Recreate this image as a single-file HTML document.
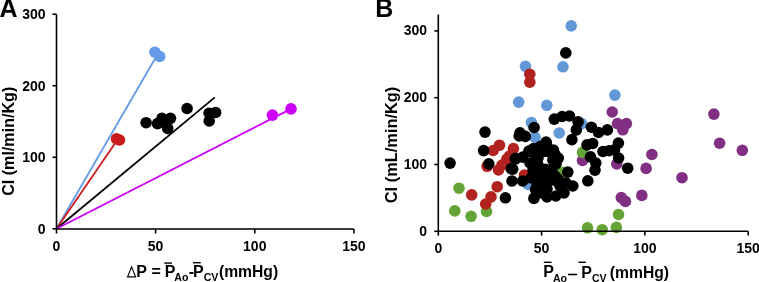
<!DOCTYPE html>
<html><head><meta charset="utf-8"><style>
html,body{margin:0;padding:0;background:#fff;width:759px;height:282px;overflow:hidden}
svg{display:block;will-change:transform}
</style></head><body>
<svg width="759" height="282" viewBox="0 0 759 282">
<line x1="56.5" y1="228.8" x2="158.0" y2="53.5" stroke="#649BE6" stroke-width="1.8"/>
<line x1="56.5" y1="228.8" x2="118.0" y2="139.0" stroke="#C91A1E" stroke-width="1.8"/>
<line x1="56.5" y1="228.8" x2="214.8" y2="97.4" stroke="#000000" stroke-width="1.8"/>
<line x1="56.5" y1="228.8" x2="291.0" y2="108.9" stroke="#CC00FA" stroke-width="1.8"/>
<circle cx="154.9" cy="52.2" r="5.8" fill="#649BE6"/>
<circle cx="159.7" cy="56.5" r="5.8" fill="#649BE6"/>
<circle cx="116.5" cy="138.8" r="5.8" fill="#C91A1E"/>
<circle cx="119.5" cy="140.0" r="5.8" fill="#C91A1E"/>
<circle cx="272.4" cy="115.1" r="5.8" fill="#CC00FA"/>
<circle cx="291.0" cy="108.9" r="5.8" fill="#CC00FA"/>
<circle cx="146.1" cy="122.7" r="5.8" fill="#000000"/>
<circle cx="157.5" cy="123.6" r="5.8" fill="#000000"/>
<circle cx="162.0" cy="118.3" r="5.8" fill="#000000"/>
<circle cx="170.5" cy="118.3" r="5.8" fill="#000000"/>
<circle cx="167.7" cy="128.4" r="5.8" fill="#000000"/>
<circle cx="164.5" cy="122.5" r="5.8" fill="#000000"/>
<circle cx="187.1" cy="108.5" r="5.8" fill="#000000"/>
<circle cx="209.1" cy="113.2" r="5.8" fill="#000000"/>
<circle cx="215.6" cy="112.5" r="5.8" fill="#000000"/>
<circle cx="209.2" cy="121.0" r="5.8" fill="#000000"/>
<circle cx="571.2" cy="25.9" r="5.8" fill="#6298D6"/>
<circle cx="565.8" cy="52.9" r="5.8" fill="#000000"/>
<circle cx="563.0" cy="66.8" r="5.8" fill="#6298D6"/>
<circle cx="525.5" cy="66.3" r="5.8" fill="#6298D6"/>
<circle cx="529.8" cy="74.2" r="5.8" fill="#B2221E"/>
<circle cx="529.8" cy="82.2" r="5.8" fill="#B2221E"/>
<circle cx="518.7" cy="102.1" r="5.8" fill="#6298D6"/>
<circle cx="546.8" cy="105.3" r="5.8" fill="#6298D6"/>
<circle cx="614.9" cy="95.1" r="5.8" fill="#6298D6"/>
<circle cx="612.2" cy="112.0" r="5.8" fill="#812F83"/>
<circle cx="713.9" cy="114.1" r="5.8" fill="#812F83"/>
<circle cx="719.6" cy="143.2" r="5.8" fill="#812F83"/>
<circle cx="742.3" cy="150.3" r="5.8" fill="#812F83"/>
<circle cx="682.0" cy="177.7" r="5.8" fill="#812F83"/>
<circle cx="651.9" cy="154.5" r="5.8" fill="#812F83"/>
<circle cx="646.1" cy="168.4" r="5.8" fill="#812F83"/>
<circle cx="641.8" cy="195.4" r="5.8" fill="#812F83"/>
<circle cx="621.3" cy="197.6" r="5.8" fill="#812F83"/>
<circle cx="625.4" cy="201.4" r="5.8" fill="#812F83"/>
<circle cx="617.5" cy="123.6" r="5.8" fill="#812F83"/>
<circle cx="626.4" cy="123.6" r="5.8" fill="#812F83"/>
<circle cx="622.8" cy="129.8" r="5.8" fill="#812F83"/>
<circle cx="616.8" cy="164.0" r="5.8" fill="#812F83"/>
<circle cx="582.5" cy="160.4" r="5.8" fill="#812F83"/>
<circle cx="459.0" cy="188.2" r="5.8" fill="#65A336"/>
<circle cx="454.8" cy="210.9" r="5.8" fill="#65A336"/>
<circle cx="471.1" cy="216.3" r="5.8" fill="#65A336"/>
<circle cx="486.5" cy="211.5" r="5.8" fill="#65A336"/>
<circle cx="587.5" cy="227.8" r="5.8" fill="#65A336"/>
<circle cx="602.2" cy="229.7" r="5.8" fill="#65A336"/>
<circle cx="616.4" cy="227.4" r="5.8" fill="#65A336"/>
<circle cx="618.5" cy="214.5" r="5.8" fill="#65A336"/>
<circle cx="582.5" cy="152.4" r="5.8" fill="#65A336"/>
<circle cx="562.8" cy="172.3" r="5.8" fill="#65A336"/>
<circle cx="531.4" cy="122.5" r="5.8" fill="#6298D6"/>
<circle cx="535.0" cy="137.3" r="5.8" fill="#6298D6"/>
<circle cx="559.2" cy="133.0" r="5.8" fill="#6298D6"/>
<circle cx="581.6" cy="123.6" r="5.8" fill="#6298D6"/>
<circle cx="528.2" cy="184.5" r="5.8" fill="#6298D6"/>
<circle cx="471.7" cy="194.9" r="5.8" fill="#B2221E"/>
<circle cx="485.7" cy="204.0" r="5.8" fill="#B2221E"/>
<circle cx="491.0" cy="196.9" r="5.8" fill="#B2221E"/>
<circle cx="497.2" cy="186.7" r="5.8" fill="#B2221E"/>
<circle cx="487.1" cy="166.3" r="5.8" fill="#B2221E"/>
<circle cx="493.1" cy="150.5" r="5.8" fill="#B2221E"/>
<circle cx="499.5" cy="145.2" r="5.8" fill="#B2221E"/>
<circle cx="513.4" cy="148.6" r="5.8" fill="#B2221E"/>
<circle cx="498.5" cy="170.0" r="5.8" fill="#B2221E"/>
<circle cx="502.0" cy="165.0" r="5.8" fill="#B2221E"/>
<circle cx="506.9" cy="159.0" r="5.8" fill="#B2221E"/>
<circle cx="509.5" cy="156.0" r="5.8" fill="#B2221E"/>
<circle cx="524.5" cy="175.0" r="5.8" fill="#B2221E"/>
<circle cx="450.1" cy="163.1" r="5.8" fill="#000000"/>
<circle cx="485.0" cy="132.1" r="5.8" fill="#000000"/>
<circle cx="483.6" cy="150.6" r="5.8" fill="#000000"/>
<circle cx="488.8" cy="163.9" r="5.8" fill="#000000"/>
<circle cx="520.0" cy="132.8" r="5.8" fill="#000000"/>
<circle cx="525.3" cy="136.4" r="5.8" fill="#000000"/>
<circle cx="534.1" cy="127.5" r="5.8" fill="#000000"/>
<circle cx="519.2" cy="135.9" r="5.8" fill="#000000"/>
<circle cx="505.4" cy="197.8" r="5.8" fill="#000000"/>
<circle cx="512.0" cy="181.0" r="5.8" fill="#000000"/>
<circle cx="522.6" cy="181.0" r="5.8" fill="#000000"/>
<circle cx="515.5" cy="159.0" r="5.8" fill="#000000"/>
<circle cx="511.2" cy="168.7" r="5.8" fill="#000000"/>
<circle cx="522.8" cy="157.1" r="5.8" fill="#000000"/>
<circle cx="515.5" cy="158.4" r="5.8" fill="#000000"/>
<circle cx="512.7" cy="169.2" r="5.8" fill="#000000"/>
<circle cx="554.3" cy="119.1" r="5.8" fill="#000000"/>
<circle cx="562.1" cy="116.5" r="5.8" fill="#000000"/>
<circle cx="569.5" cy="116.0" r="5.8" fill="#000000"/>
<circle cx="578.1" cy="121.9" r="5.8" fill="#000000"/>
<circle cx="576.3" cy="129.9" r="5.8" fill="#000000"/>
<circle cx="571.9" cy="139.6" r="5.8" fill="#000000"/>
<circle cx="546.1" cy="142.0" r="5.8" fill="#000000"/>
<circle cx="591.4" cy="127.2" r="5.8" fill="#000000"/>
<circle cx="598.5" cy="132.5" r="5.8" fill="#000000"/>
<circle cx="607.4" cy="129.9" r="5.8" fill="#000000"/>
<circle cx="587.0" cy="144.9" r="5.8" fill="#000000"/>
<circle cx="592.7" cy="143.5" r="5.8" fill="#000000"/>
<circle cx="603.0" cy="151.5" r="5.8" fill="#000000"/>
<circle cx="609.1" cy="150.7" r="5.8" fill="#000000"/>
<circle cx="614.5" cy="149.8" r="5.8" fill="#000000"/>
<circle cx="618.4" cy="143.1" r="5.8" fill="#000000"/>
<circle cx="618.6" cy="158.0" r="5.8" fill="#000000"/>
<circle cx="627.7" cy="168.2" r="5.8" fill="#000000"/>
<circle cx="590.5" cy="156.9" r="5.8" fill="#000000"/>
<circle cx="595.8" cy="163.1" r="5.8" fill="#000000"/>
<circle cx="595.0" cy="170.2" r="5.8" fill="#000000"/>
<circle cx="587.8" cy="180.8" r="5.8" fill="#000000"/>
<circle cx="567.8" cy="172.1" r="5.8" fill="#000000"/>
<circle cx="572.8" cy="186.0" r="5.8" fill="#000000"/>
<circle cx="564.0" cy="193.0" r="5.8" fill="#000000"/>
<circle cx="555.8" cy="196.0" r="5.8" fill="#000000"/>
<circle cx="547.0" cy="197.0" r="5.8" fill="#000000"/>
<circle cx="533.9" cy="198.4" r="5.8" fill="#000000"/>
<circle cx="535.6" cy="189.5" r="5.8" fill="#000000"/>
<circle cx="558.6" cy="182.6" r="5.8" fill="#000000"/>
<circle cx="556.8" cy="159.5" r="5.8" fill="#000000"/>
<circle cx="529.0" cy="151.0" r="5.8" fill="#000000"/>
<circle cx="536.1" cy="149.2" r="5.8" fill="#000000"/>
<circle cx="543.2" cy="148.3" r="5.8" fill="#000000"/>
<circle cx="552.9" cy="151.9" r="5.8" fill="#000000"/>
<circle cx="558.3" cy="158.1" r="5.8" fill="#000000"/>
<circle cx="529.3" cy="151.3" r="5.8" fill="#000000"/>
<circle cx="539.2" cy="150.5" r="5.8" fill="#000000"/>
<circle cx="549.1" cy="151.3" r="5.8" fill="#000000"/>
<circle cx="554.8" cy="154.1" r="5.8" fill="#000000"/>
<circle cx="536.4" cy="157.0" r="5.8" fill="#000000"/>
<circle cx="530.0" cy="163.0" r="5.8" fill="#000000"/>
<circle cx="538.0" cy="165.0" r="5.8" fill="#000000"/>
<circle cx="552.0" cy="169.0" r="5.8" fill="#000000"/>
<circle cx="535.0" cy="172.0" r="5.8" fill="#000000"/>
<circle cx="545.0" cy="176.0" r="5.8" fill="#000000"/>
<circle cx="555.0" cy="176.0" r="5.8" fill="#000000"/>
<circle cx="531.0" cy="178.0" r="5.8" fill="#000000"/>
<circle cx="540.0" cy="184.0" r="5.8" fill="#000000"/>
<circle cx="547.0" cy="189.0" r="5.8" fill="#000000"/>
<circle cx="556.0" cy="164.0" r="5.8" fill="#000000"/>
<circle cx="537.0" cy="186.0" r="5.8" fill="#000000"/>
<circle cx="545.0" cy="182.0" r="5.8" fill="#000000"/>
<circle cx="540.0" cy="176.0" r="5.8" fill="#000000"/>
<circle cx="548.0" cy="172.0" r="5.8" fill="#000000"/>
<circle cx="552.0" cy="180.0" r="5.8" fill="#000000"/>
<circle cx="558.0" cy="179.0" r="5.8" fill="#000000"/>
<circle cx="533.0" cy="170.0" r="5.8" fill="#000000"/>
<circle cx="538.0" cy="158.0" r="5.8" fill="#000000"/>
<circle cx="542.0" cy="193.0" r="5.8" fill="#000000"/>
<circle cx="560.0" cy="186.0" r="5.8" fill="#000000"/>
<circle cx="566.0" cy="183.0" r="5.8" fill="#000000"/>
<circle cx="545.0" cy="151.5" r="5.8" fill="#000000"/>
<circle cx="552.8" cy="160.0" r="5.8" fill="#000000"/>
<circle cx="545.5" cy="169.4" r="5.8" fill="#000000"/>
<circle cx="533.5" cy="148.5" r="5.8" fill="#000000"/>
<circle cx="540.6" cy="146.4" r="5.8" fill="#000000"/>
<circle cx="546.3" cy="143.5" r="5.8" fill="#000000"/>
<circle cx="553.4" cy="150.0" r="5.8" fill="#000000"/>
<circle cx="554.0" cy="158.0" r="5.8" fill="#000000"/>
<g stroke="#000" stroke-width="1.6" fill="none">
<path d="M56.5 14.2 V229.0 H353.9"/>
<path d="M52.5 228.80 H56.5"/>
<path d="M52.5 157.27 H56.5"/>
<path d="M52.5 85.73 H56.5"/>
<path d="M52.5 14.20 H56.5"/>
<path d="M56.50 229.0 V233.5"/>
<path d="M155.63 229.0 V233.5"/>
<path d="M254.77 229.0 V233.5"/>
<path d="M353.90 229.0 V233.5"/>
<path d="M438.3 14.5 V231.3 H748.2"/>
<path d="M434.3 231.30 H438.3"/>
<path d="M434.3 164.50 H438.3"/>
<path d="M434.3 97.70 H438.3"/>
<path d="M434.3 30.90 H438.3"/>
<path d="M438.30 231.3 V235.6"/>
<path d="M541.60 231.3 V235.6"/>
<path d="M644.90 231.3 V235.6"/>
<path d="M748.20 231.3 V235.6"/>
</g>
<g font-family="'Liberation Sans', sans-serif" font-weight="bold" fill="#000">
<text x="-0.5" y="17" font-size="25">A</text>
<text x="375.2" y="17" font-size="25">B</text>
<text x="45.5" y="233.80" font-size="14" text-anchor="end">0</text>
<text x="45.5" y="162.27" font-size="14" text-anchor="end">100</text>
<text x="45.5" y="90.73" font-size="14" text-anchor="end">200</text>
<text x="45.5" y="19.20" font-size="14" text-anchor="end">300</text>
<text x="56.50" y="251" font-size="14" text-anchor="middle">0</text>
<text x="155.63" y="251" font-size="14" text-anchor="middle">50</text>
<text x="254.77" y="251" font-size="14" text-anchor="middle">100</text>
<text x="353.90" y="251" font-size="14" text-anchor="middle">150</text>
<text x="427" y="235.70" font-size="14" text-anchor="end">0</text>
<text x="427" y="168.90" font-size="14" text-anchor="end">100</text>
<text x="427" y="102.10" font-size="14" text-anchor="end">200</text>
<text x="427" y="35.30" font-size="14" text-anchor="end">300</text>
<text x="438.30" y="252.5" font-size="14" text-anchor="middle">0</text>
<text x="541.60" y="252.5" font-size="14" text-anchor="middle">50</text>
<text x="644.90" y="252.5" font-size="14" text-anchor="middle">100</text>
<text x="748.20" y="252.5" font-size="14" text-anchor="middle">150</text>
<text transform="translate(13.5 141.3) rotate(-90)" font-size="16.1" text-anchor="middle">CI (ml/min/Kg)</text>
<text transform="translate(396.8 145) rotate(-90)" font-size="16.4" text-anchor="middle">CI (mL/min/Kg)</text>
<path d="M131.6 266.9 L135.6 276.8 H127.6 Z" fill="none" stroke="#000" stroke-width="1.15" stroke-linejoin="miter"/>
<text x="136.23" y="277.3" font-size="16">P</text>
<text x="151.43" y="277.3" font-size="16">=</text>
<text x="164.73" y="277.3" font-size="16">P</text>
<text x="174.24" y="281.0" font-size="10.6">Ao</text>
<text x="188.78" y="277.3" font-size="16">-</text>
<text x="192.93" y="277.3" font-size="16">P</text>
<text x="203.67" y="281.0" font-size="10.6">CV</text>
<text x="218.91" y="277.3" font-size="15.7">(mmHg)</text>
<text x="543.23" y="277.3" font-size="16">P</text>
<text x="552.94" y="281.5" font-size="10.6">Ao</text>
<text x="581.13" y="277.5" font-size="16">P</text>
<text x="591.97" y="281.5" font-size="10.6">CV</text>
<text x="609.82" y="277.5" font-size="15.7">(mmHg)</text>
<g fill="#000"><rect x="164.3" y="262.4" width="7.6" height="1.4"/><rect x="192.9" y="262.0" width="7.9" height="1.4"/><rect x="543.8" y="261.6" width="7.7" height="1.4"/><rect x="578.4" y="261.6" width="7.5" height="1.4"/><rect x="568.1" y="273.7" width="8.9" height="1.6"/></g>
</g>
</svg>
</body></html>
